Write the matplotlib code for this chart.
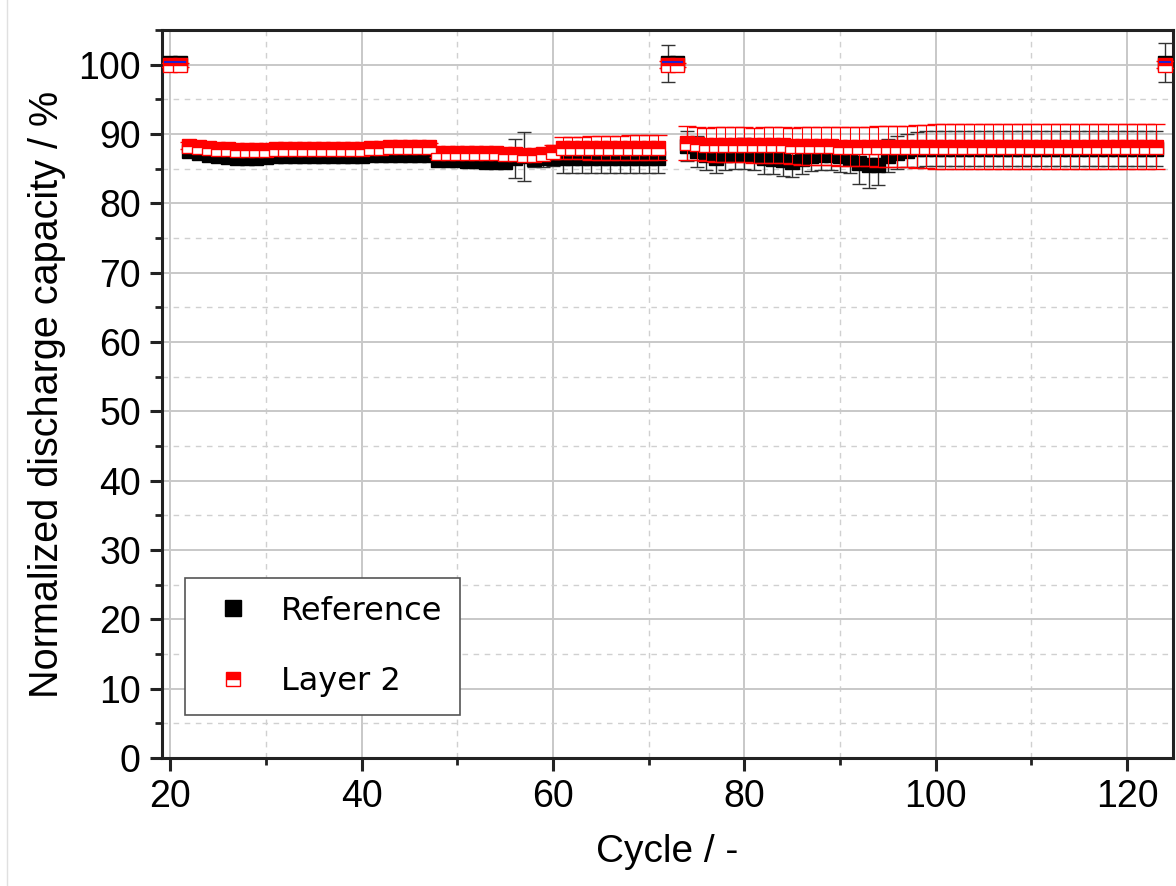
import matplotlib
matplotlib.use("Agg")
import matplotlib.pyplot as plt
from matplotlib.lines import Line2D
from matplotlib.ticker import MultipleLocator

plt.rcParams['font.family'] = ['Liberation Sans', 'DejaVu Sans']

# discharge capacity normalized to the first cycle of each block
cycles_a = list(range(22, 72))
cycles_b = list(range(74, 124))
cycles_full = [20, 21, 72, 73, 124]

ref_a = [87.6, 87.3, 87.0, 86.8, 86.7, 86.6, 86.6, 86.6, 86.7, 86.8,
         86.8, 86.8, 86.8, 86.8, 86.9, 86.9, 86.9, 86.9, 86.9, 87.0,
         87.0, 87.0, 87.0, 87.0, 87.0, 87.0, 86.3, 86.2, 86.2, 86.1,
         86.1, 86.0, 86.0, 86.0, 86.5, 86.8, 86.4, 86.5, 86.6, 86.6,
         86.6, 86.6, 86.6, 86.6, 86.6, 86.6, 86.6, 86.6, 86.6, 86.6]
ref_a_err = [0.4, 0.4, 0.4, 0.4, 0.4, 0.4, 0.4, 0.4, 0.4, 0.4,
             0.4, 0.4, 0.4, 0.4, 0.4, 0.4, 0.4, 0.4, 0.4, 0.4,
             0.4, 0.4, 0.4, 0.4, 0.4, 0.4, 0.5, 0.5, 0.5, 0.5,
             0.6, 0.6, 0.7, 0.8, 2.8, 3.5, 1.2, 1.2, 1.2, 2.2,
             2.2, 2.2, 2.2, 2.2, 2.2, 2.2, 2.2, 2.2, 2.2, 2.2]
l2_a = [88.3, 88.2, 88.0, 87.9, 87.8, 87.7, 87.7, 87.7, 87.7, 87.8,
        87.8, 87.8, 87.8, 87.8, 87.9, 87.9, 87.9, 87.9, 87.9, 88.0,
        88.0, 88.1, 88.1, 88.2, 88.2, 88.2, 87.3, 87.3, 87.3, 87.3,
        87.3, 87.3, 87.3, 87.2, 87.2, 87.0, 87.0, 87.2, 87.4, 88.0,
        88.0, 88.0, 88.0, 88.0, 88.0, 88.0, 88.0, 88.0, 88.0, 88.0]
l2_a_err = [0.5, 0.5, 0.5, 0.5, 0.5, 0.5, 0.5, 0.5, 0.5, 0.5,
            0.5, 0.5, 0.5, 0.5, 0.5, 0.5, 0.5, 0.5, 0.5, 0.5,
            0.5, 0.5, 0.5, 0.5, 0.5, 0.5, 0.6, 0.6, 0.6, 0.6,
            0.6, 0.6, 0.6, 0.6, 0.6, 0.6, 0.6, 0.8, 1.0, 1.6,
            1.6, 1.6, 1.7, 1.7, 1.7, 1.7, 1.8, 1.8, 1.8, 1.8]

ref_b = [88.3, 87.5, 87.0, 86.6, 87.0, 87.1, 87.2, 87.0, 86.5, 86.4,
         86.2, 86.0, 86.4, 86.9, 87.0, 87.0, 86.8, 86.6, 85.8, 85.5,
         85.6, 86.9, 87.3, 87.6, 87.8, 87.9, 87.9, 87.9, 87.9, 87.9,
         87.9, 87.9, 87.9, 87.9, 87.9, 87.9, 87.9, 87.9, 87.9, 87.9,
         87.9, 87.9, 87.9, 87.9, 87.9, 87.9, 87.9, 87.9, 87.9, 87.9]
ref_b_err = [2.2, 2.2, 2.2, 2.2, 2.2, 2.2, 2.2, 2.2, 2.2, 2.2,
             2.2, 2.2, 2.2, 2.2, 2.2, 2.2, 2.2, 2.2, 3.0, 3.3,
             3.0, 2.4, 2.4, 2.4, 2.5, 2.5, 2.5, 2.5, 2.5, 2.5,
             2.5, 2.5, 2.5, 2.5, 2.5, 2.5, 2.5, 2.5, 2.5, 2.5,
             2.5, 2.5, 2.5, 2.5, 2.5, 2.5, 2.5, 2.5, 2.5, 2.5]
l2_b = [88.7, 88.6, 88.5, 88.5, 88.5, 88.5, 88.5, 88.4, 88.4, 88.4,
        88.4, 88.3, 88.3, 88.3, 88.3, 88.3, 88.2, 88.2, 88.2, 88.2,
        88.2, 88.2, 88.2, 88.2, 88.2, 88.2, 88.2, 88.2, 88.2, 88.2,
        88.2, 88.2, 88.2, 88.2, 88.2, 88.2, 88.2, 88.2, 88.2, 88.2,
        88.2, 88.2, 88.2, 88.2, 88.2, 88.2, 88.2, 88.2, 88.2, 88.2]
l2_b_err = [2.4, 2.4, 2.4, 2.5, 2.5, 2.5, 2.5, 2.5, 2.6, 2.6,
            2.6, 2.6, 2.7, 2.7, 2.7, 2.7, 2.8, 2.8, 2.8, 2.8,
            2.9, 2.9, 3.0, 3.0, 3.1, 3.1, 3.2, 3.2, 3.3, 3.3,
            3.3, 3.3, 3.3, 3.3, 3.3, 3.3, 3.3, 3.3, 3.3, 3.3,
            3.3, 3.3, 3.3, 3.3, 3.3, 3.3, 3.3, 3.3, 3.3, 3.3]

ref_full = [100.2, 100.2, 100.2, 100.2, 100.3]
ref_full_err = [0.3, 0.3, 2.7, 0.3, 2.8]
l2_full = [100.0, 100.0, 100.0, 100.0, 100.0]
l2_full_err = [0.3, 0.3, 0.5, 0.3, 0.5]
l1_full = [100.4, 100.4, 100.4, 100.4, 100.4]

fig = plt.figure(figsize=(11.76, 8.86), dpi=100)
ax = fig.add_axes([0.1375, 0.1445, 0.8600, 0.8215])

ref_x = [cycles_full[:2], cycles_a, cycles_full[2:4], cycles_b, cycles_full[4:]]
ref_y = [ref_full[:2], ref_a, ref_full[2:4], ref_b, ref_full[4:]]
ref_e = [ref_full_err[:2], ref_a_err, ref_full_err[2:4], ref_b_err, ref_full_err[4:]]
l2_y = [l2_full[:2], l2_a, l2_full[2:4], l2_b, l2_full[4:]]
l2_e = [l2_full_err[:2], l2_a_err, l2_full_err[2:4], l2_b_err, l2_full_err[4:]]

for x, y, e in zip(ref_x, ref_y, ref_e):
    ax.errorbar(x, y, yerr=e, fmt='s', color='black', ms=10.5, mec='black',
                ecolor='#333333', elinewidth=1.0, capsize=5, capthick=1.0,
                zorder=3)

for x, y, e in zip(ref_x, l2_y, l2_e):
    ax.errorbar(x, y, yerr=e, fmt='s', color='red', ms=10.5, mec='red', mew=1.0,
                fillstyle='top', markerfacecoloralt='white',
                ecolor='red', elinewidth=0.8, capsize=6.5, capthick=0.8,
                zorder=4)

# thin blue trace on the full-capacity cycles
ax.plot(cycles_full, l1_full, '_', color='#2020d0', ms=9, mew=1.5, zorder=4.5)

ax.set_xlim(19.1, 124.8)
ax.set_ylim(0, 105)
ax.xaxis.set_major_locator(MultipleLocator(20))
ax.xaxis.set_minor_locator(MultipleLocator(10))
ax.yaxis.set_major_locator(MultipleLocator(10))
ax.yaxis.set_minor_locator(MultipleLocator(5))

ax.grid(which='major', color='#c8c8c8', lw=1.4, ls='-', zorder=0)
ax.grid(which='minor', color='#d0d0d0', lw=1.0, ls=(0, (4, 4)), zorder=0)
ax.set_axisbelow(True)

for s in ax.spines.values():
    s.set_linewidth(2.2)
    s.set_color('#222222')
ax.tick_params(which='major', direction='out', length=9, width=2.2,
               labelsize=27, pad=6, color='#222222')
ax.tick_params(which='minor', direction='out', length=5, width=2.0,
               color='#222222')

ax.set_xlabel('Cycle / -', fontsize=28, labelpad=14)
ax.set_ylabel('Normalized discharge capacity / %', fontsize=28.5, labelpad=9)

handles = [
    Line2D([], [], ls='none', marker='s', color='black', ms=11),
    Line2D([], [], ls='none', marker='s', color='red', mec='red', ms=9.5,
           fillstyle='top', markerfacecoloralt='white'),
]
leg = ax.legend(handles, ['Reference', 'Layer 2'], loc='lower left',
                bbox_to_anchor=(0.023, 0.059), borderaxespad=0,
                prop={'family': 'DejaVu Sans', 'size': 23},
                labelspacing=1.25, handletextpad=0.55, borderpad=0.55,
                handlelength=1.9, fancybox=False, framealpha=1.0)
leg.get_frame().set_edgecolor('#555555')
leg.get_frame().set_linewidth(1.2)

fig.add_artist(Line2D([0.006, 0.006], [0.0, 1.0], color='#e0e0e0', lw=1.0))

fig.savefig('out.png', dpi=100)
